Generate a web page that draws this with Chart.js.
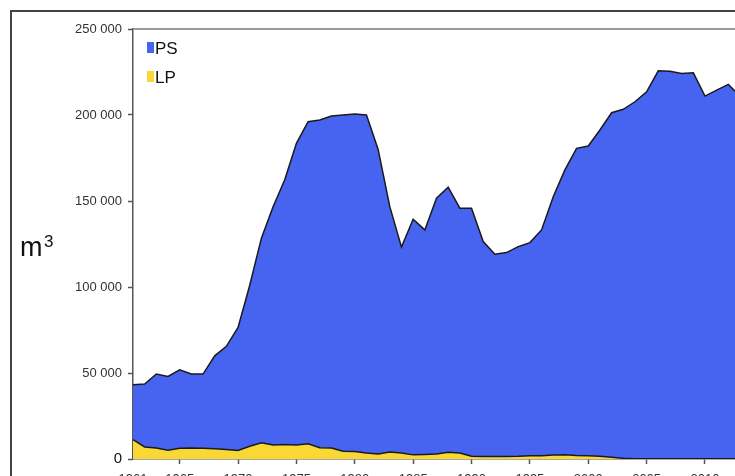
<!DOCTYPE html>
<html>
<head>
<meta charset="utf-8">
<script src="https://cdn.jsdelivr.net/npm/chart.js@4"></script>
<style>
  html, body { margin: 0; padding: 0; background: #fff; overflow: hidden; width: 735px; height: 476px; }
  #wrap { position: absolute; left: 0; top: 0; width: 760px; height: 500px; }
</style>
</head>
<body>
<div id="wrap"><canvas id="c" width="760" height="500"></canvas></div>
<script>
const years = [1961,1962,1963,1964,1965,1966,1967,1968,1969,1970,
  1971,1972,1973,1974,1975,1976,1977,1978,1979,1980,
  1981,1982,1983,1984,1985,1986,1987,1988,1989,1990,
  1991,1992,1993,1994,1995,1996,1997,1998,1999,2000,
  2001,2002,2003,2004,2005,2006,2007,2008,2009,2010,
  2011,2012,2013];
const lpValues = [11300,7000,6400,5100,6200,6400,6200,6000,5500,4900,
  7400,9500,8200,8500,8200,8800,6600,6400,4500,4300,
  3500,2900,4100,3500,2400,2600,2900,3900,3500,1600,
  1500,1500,1500,1600,1900,1900,2300,2500,2100,1900,
  1600,1000,400,200,200,200,200,200,200,200,
  200,200,200];
const psValues = [31900,36600,43000,42900,45700,43000,43200,54000,60000,71600,
  93600,118900,138500,153800,175300,187300,190500,193000,195500,196300,
  196500,177100,142600,119700,137000,130600,148700,154100,142300,144200,
  124900,117600,118500,121900,123900,131300,150200,165600,178500,180100,
  189700,200300,202900,207500,213300,225500,225300,224000,224300,210800,
  214300,217600,210800];
const xTickYears = [1961,1965,1970,1975,1980,1985,1990,1995,2000,2005,2010];
const yTickValues = [0,50000,100000,150000,200000,250000];
const seriesNames = ['PS','LP'];
const yUnitBase = 'm';
const yUnitSup = '3';

const FONT = '"Liberation Sans", Arial, Helvetica, sans-serif';
const BLUE = '#4764F1';
const YELLOW = '#F9D836';

const decorPlugin = {
  id: 'decor',
  afterDraw(chart) {
    const ctx = chart.ctx;
    const a = chart.chartArea;
    ctx.save();
    ctx.strokeStyle = '#9a9a9a';
    ctx.lineWidth = 2;
    ctx.beginPath();
    ctx.moveTo(a.left, a.top);
    ctx.lineTo(a.right, a.top);
    ctx.lineTo(a.right, a.bottom);
    ctx.stroke();
    ctx.strokeStyle = '#444';
    ctx.lineWidth = 2;
    ctx.strokeRect(11, 11, 900, 700);
    const items = [
      { name: seriesNames[0], color: BLUE, y: 42 },
      { name: seriesNames[1], color: YELLOW, y: 71 }
    ];
    ctx.font = '17px ' + FONT;
    ctx.textBaseline = 'alphabetic';
    ctx.textAlign = 'left';
    items.forEach(it => {
      ctx.fillStyle = it.color;
      ctx.fillRect(147, it.y, 7, 11);
      ctx.fillStyle = '#111';
      ctx.fillText(it.name, 155, it.y + 11.5);
    });
    ctx.fillStyle = '#111';
    ctx.font = '27px ' + FONT;
    ctx.fillText(yUnitBase, 20, 256);
    ctx.font = '17px ' + FONT;
    ctx.fillText(yUnitSup, 44, 247);
    ctx.restore();
  }
};

new Chart(document.getElementById('c'), {
  type: 'line',
  data: {
    datasets: [
      {
        label: seriesNames[1],
        data: years.map((y, i) => ({ x: y, y: lpValues[i] })),
        backgroundColor: YELLOW,
        borderColor: '#1a1a1a',
        borderWidth: 1.5,
        fill: 'origin',
        pointRadius: 0,
        tension: 0
      },
      {
        label: seriesNames[0],
        data: years.map((y, i) => ({ x: y, y: psValues[i] })),
        backgroundColor: BLUE,
        borderColor: '#1a1a1a',
        borderWidth: 1.5,
        fill: '-1',
        pointRadius: 0,
        tension: 0
      }
    ]
  },
  options: {
    responsive: false,
    animation: false,
    devicePixelRatio: 1,
    layout: { padding: { left: 0, top: 29, right: 20, bottom: 0 } },
    plugins: { legend: { display: false }, tooltip: { enabled: false } },
    scales: {
      x: {
        type: 'linear',
        min: 1961,
        max: 2013,
        afterBuildTicks(s) { s.ticks = xTickYears.map(v => ({ value: v })); },
        afterFit(s) { s.height = 41; },
        grid: {
          drawOnChartArea: false,
          drawTicks: true,
          tickLength: 5,
          tickWidth: 1.5,
          color: c => (c.tick && c.tick.value === 1961) ? 'rgba(0,0,0,0)' : '#555'
        },
        border: { display: true, color: '#555', width: 1.5 },
        ticks: {
          autoSkip: false,
          maxRotation: 0,
          padding: 8,
          color: '#333',
          font: { family: FONT, size: 13 },
          callback: v => String(v)
        }
      },
      y: {
        stacked: true,
        min: 0,
        max: 250000,
        afterBuildTicks(s) { s.ticks = yTickValues.map(v => ({ value: v })); },
        afterFit(s) { s.width = 133; },
        grid: {
          drawOnChartArea: false,
          drawTicks: true,
          tickLength: 5,
          tickWidth: 1.5,
          color: '#555'
        },
        border: { display: true, color: '#555', width: 1.5 },
        ticks: {
          padding: 6,
          color: c => (c.tick && c.tick.value === 0) ? '#111' : '#333',
          font: c => (c.tick && c.tick.value === 0) ? { family: FONT, size: 15 } : { family: FONT, size: 13 },
          callback: v => String(v).replace(/\B(?=(\d{3})+(?!\d))/g, ' ')
        }
      }
    }
  },
  plugins: [decorPlugin]
});
</script>
</body>
</html>
